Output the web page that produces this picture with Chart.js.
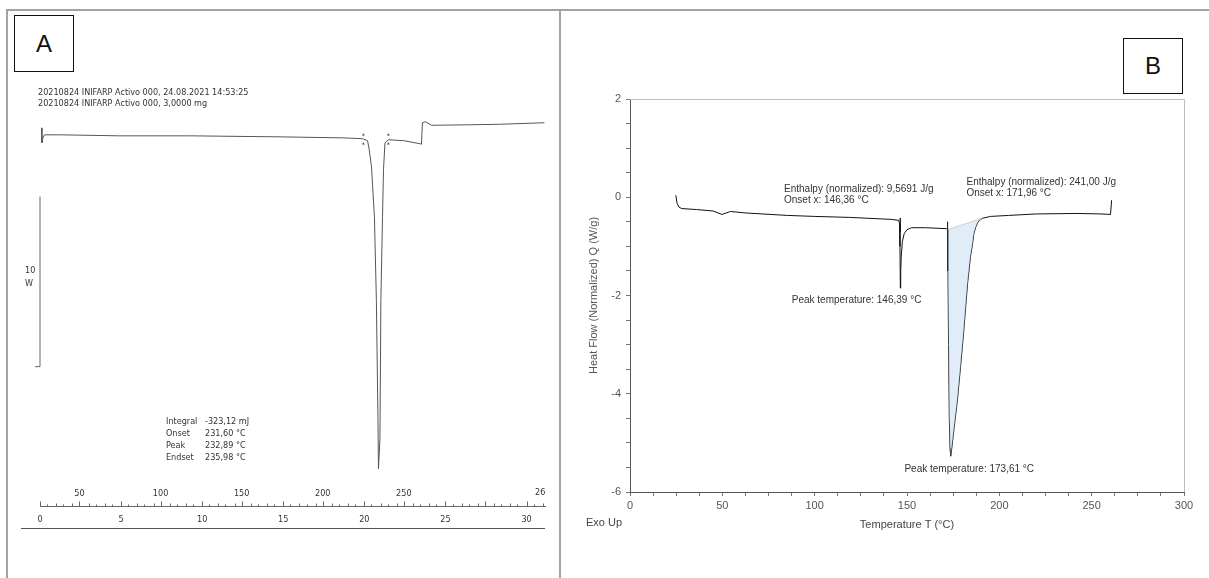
<!DOCTYPE html>
<html>
<head>
<meta charset="utf-8">
<script src="https://cdn.jsdelivr.net/npm/chart.js@4.4.0/dist/chart.umd.min.js"></script>
<style>
body{margin:0;background:#fff;width:1209px;height:578px;overflow:hidden;position:relative;font-family:"Liberation Sans",Arial,sans-serif}
.ln{position:absolute;background:#a3a3a3}
.box{position:absolute;border:1.5px solid #111;box-sizing:border-box;font-size:24px;color:#111;display:flex;align-items:center;justify-content:center}
.ta{position:absolute;font-family:"DejaVu Sans Condensed","DejaVu Sans";font-size:9px;color:#333;white-space:pre;line-height:11px}
.tb{position:absolute;font-family:"Liberation Sans Narrow","Liberation Sans";font-size:11px;color:#444;white-space:pre}
canvas{position:absolute}
</style>
</head>
<body>
<div class="ln" style="left:6px;top:9px;width:1203px;height:2px"></div>
<div class="ln" style="left:6px;top:9px;width:2px;height:569px"></div>
<div class="ln" style="left:559px;top:9px;width:2px;height:569px"></div>

<div class="box" style="left:14px;top:15px;width:60px;height:57px">A</div>
<div class="box" style="left:1123px;top:38px;width:60px;height:56px">B</div>

<canvas id="chartA" width="552" height="567" style="left:8px;top:11px"></canvas>
<canvas id="chartB" width="647" height="567" style="left:562px;top:11px"></canvas>

<div class="ta" style="left:38px;top:87px">20210824 INIFARP Activo 000, 24.08.2021 14:53:25
20210824 INIFARP Activo 000, 3,0000 mg</div>
<div class="ta" style="left:25px;top:264px;line-height:13px">10
W</div>
<div class="ta" style="left:166px;top:415px;line-height:12px">Integral
Onset
Peak
Endset</div>
<div class="ta" style="left:205px;top:415px;line-height:12px">-323,12 mJ
231,60 °C
232,89 °C
235,98 °C</div>
<div class="ta" style="left:535px;top:487px">26</div>
<div class="ln" style="left:21px;top:528px;width:524px;height:1px;background:#555"></div>
<div class="tb" style="left:586px;top:516px">Exo Up</div>

<script>
// ---- Panel A : DSC, heat flow vs time (min) ----
const tA = [0.09, 0.12, 0.18, 0.28, 1.2, 4.9, 9.28, 14.8, 18.7, 19.9, 20.2, 20.3, 20.44, 20.62, 20.74, 20.84, 20.87,
  20.96, 21.02, 21.12, 21.18, 21.27, 21.48, 22.47, 23.46, 23.52, 23.58, 23.77, 24.14, 26.48, 28.33, 31.1];
const qA = [0.35, -0.53, -0.24, -0.06, -0.06, -0.12, -0.12, -0.18, -0.24, -0.29, -0.41, -0.94, -1.94, -4.88, -9.76, -16.8, -19.7,
  -18.0, -9.76, -4.88, -2.12, -0.53, -0.35, -0.41, -0.59, -0.62, 0.65, 0.71, 0.5, 0.53, 0.56, 0.65];
const timeTicksA = [0, 5, 10, 15, 20, 25, 30];
const tempTicksA = [50, 100, 150, 200, 250];
const scaleBarA = [-3.7, -13.7]; // 10 mW
const markersA = [19.94, 21.48];

// ---- Panel B : heat flow (W/g) vs temperature ----
const tB = [24.8, 25.5, 26.5, 28, 36, 45, 49.8, 54.4, 62.8, 85.3, 100, 118.9, 130, 141.3, 145.5, 146.0, 146.2, 146.39,
  146.6, 146.9, 147.5, 148.5, 150, 152.4, 160, 171.5, 171.96, 172.2, 172.5, 172.9, 173.3, 173.61, 173.9, 175.5, 177.3,
  179, 180.6, 182.8, 184.4, 185.5, 186.2, 187.3, 188.5, 190.7, 195.2, 205, 220, 242, 255, 260.2, 260.8];
const qB = [0.04, -0.12, -0.2, -0.23, -0.25, -0.28, -0.35, -0.29, -0.32, -0.37, -0.39, -0.41, -0.43, -0.45, -0.47, -0.55, -1.0, -1.85,
  -1.5, -1.2, -0.9, -0.74, -0.66, -0.62, -0.62, -0.64, -0.66, -1.5, -3.0, -4.5, -5.1, -5.27, -5.22, -4.7, -4.13,
  -3.45, -2.78, -1.76, -1.2, -0.95, -0.74, -0.6, -0.5, -0.43, -0.39, -0.37, -0.34, -0.33, -0.34, -0.35, -0.06];
const peakRangeB = [171.96, 190.7];
const onsetsB = [146.36, 171.96];
const xTickLabelsB = [0, 50, 100, 150, 200, 250, 300];
const yTickLabelsB = [2, 0, -2, -4, -6];
const annB = [
  {x: 83.4, y: 0.16, text: "Enthalpy (normalized): 9,5691 J/g"},
  {x: 83.4, y: -0.06, text: "Onset x: 146,36 °C"},
  {x: 182.2, y: 0.31, text: "Enthalpy (normalized): 241,00 J/g"},
  {x: 182.2, y: 0.08, text: "Onset x: 171,96 °C"},
  {x: 87.6, y: -2.1, text: "Peak temperature: 146,39 °C"},
  {x: 148.6, y: -5.54, text: "Peak temperature: 173,61 °C"}
];

const pts = (xs, ys) => xs.map((x, i) => ({x: x, y: ys[i]}));
const fontB = '"Liberation Sans Narrow", "Liberation Sans", Arial';

// axes of panel A drawn from its two x scales (time + temperature)
const axisA = {
  id: "axisA",
  afterDraw(chart) {
    const ctx = chart.ctx, x = chart.scales.x, xT = chart.scales.xT;
    const yl = chart.chartArea.bottom + 0.5;
    ctx.save();
    ctx.strokeStyle = "#666";
    ctx.lineWidth = 1;
    ctx.beginPath();
    ctx.moveTo(x.getPixelForValue(0), yl);
    ctx.lineTo(chart.chartArea.right, yl);
    for (let t = 0; t <= x.max; t++) {
      const px = Math.round(x.getPixelForValue(t)) + 0.5;
      ctx.moveTo(px, yl);
      ctx.lineTo(px, yl - (t % 5 === 0 ? 5 : 3));
    }
    for (let T = 30; T <= 330; T += 10) {
      const px = Math.round(xT.getPixelForValue(T)) + 0.5;
      if (px < x.getPixelForValue(0) || px > chart.chartArea.right) continue;
      ctx.moveTo(px, yl);
      ctx.lineTo(px, yl - (T % 50 === 0 ? 5 : 2));
    }
    ctx.stroke();
    ctx.fillStyle = "#333";
    ctx.font = '9px "DejaVu Sans Condensed", "DejaVu Sans"';
    ctx.textAlign = "center";
    ctx.textBaseline = "middle";
    timeTicksA.forEach(t => ctx.fillText(String(t), x.getPixelForValue(t), yl + 13));
    tempTicksA.forEach(T => ctx.fillText(String(T), xT.getPixelForValue(T), yl - 13));
    ctx.restore();
  }
};

new Chart(document.getElementById("chartA"), {
  type: "line",
  data: {
    datasets: [
      {data: pts(tA, qA), borderColor: "#555", borderWidth: 1, pointRadius: 0, tension: 0, clip: false},
      {data: [{x: -0.3, y: scaleBarA[1]}, {x: 0, y: scaleBarA[1]}, {x: 0, y: scaleBarA[0]}],
        borderColor: "#666", borderWidth: 1, pointRadius: 0, clip: false},
      {data: markersA.flatMap(t => [{x: t, y: -0.06}, {x: t, y: -0.59}]), showLine: false,
        pointStyle: "triangle", pointRadius: 1.6, pointBackgroundColor: "#444", pointBorderWidth: 0}
    ]
  },
  options: {
    responsive: false,
    animation: false,
    events: [],
    layout: {padding: {left: 32, right: 14, top: 99, bottom: 72}},
    plugins: {legend: {display: false}, tooltip: {enabled: false}},
    scales: {
      x: {type: "linear", min: 0, max: 31.2, display: false},
      xT: {type: "linear", min: 25.65, max: 337.65, display: false},
      y: {type: "linear", min: -21.9, max: 1.4, display: false}
    }
  },
  plugins: [axisA]
});

// light frame (top/right) and text labels for panel B
const frameB = {
  id: "frameB",
  beforeDatasetsDraw(chart) {
    const {ctx, chartArea: a} = chart;
    ctx.save();
    ctx.strokeStyle = "#bdbdbd";
    ctx.lineWidth = 1;
    ctx.beginPath();
    ctx.moveTo(a.left, a.top + 0.5);
    ctx.lineTo(a.right + 0.5, a.top + 0.5);
    ctx.lineTo(a.right + 0.5, a.bottom);
    ctx.stroke();
    ctx.restore();
  },
  afterDatasetsDraw(chart) {
    const ctx = chart.ctx, x = chart.scales.x, y = chart.scales.y;
    ctx.save();
    ctx.fillStyle = "#333";
    ctx.font = "10px " + fontB;
    ctx.textBaseline = "middle";
    annB.forEach(a => ctx.fillText(a.text, x.getPixelForValue(a.x), y.getPixelForValue(a.y)));
    ctx.restore();
  }
};

const peakPts = pts(tB, qB).filter(p => p.x >= peakRangeB[0] && p.x <= peakRangeB[1]);
const baseB = [{x: peakRangeB[0], y: -0.66}, {x: peakRangeB[1], y: -0.43}];

new Chart(document.getElementById("chartB"), {
  type: "line",
  data: {
    datasets: [
      {data: peakPts, borderWidth: 0, pointRadius: 0, fill: "+1", backgroundColor: "rgba(198,220,242,0.55)"},
      {data: baseB, borderColor: "#aaa", borderWidth: 0.6, pointRadius: 0},
      {data: pts(tB, qB), borderColor: "#111", borderWidth: 1, pointRadius: 0, tension: 0},
      {data: [{x: onsetsB[0], y: -0.42}, {x: onsetsB[0], y: -0.7}], borderColor: "#222", borderWidth: 0.8, pointRadius: 0},
      {data: [{x: onsetsB[1], y: -0.5}, {x: onsetsB[1], y: -0.75}], borderColor: "#222", borderWidth: 0.8, pointRadius: 0}
    ]
  },
  options: {
    responsive: false,
    animation: false,
    events: [],
    layout: {padding: {left: 0, right: 25, top: 88, bottom: 46}},
    plugins: {legend: {display: false}, tooltip: {enabled: false}},
    scales: {
      x: {
        type: "linear", min: 0, max: 300,
        afterFit: s => { s.height = 40; },
        border: {color: "#555"},
        grid: {drawOnChartArea: false, tickLength: 4, color: "#777"},
        ticks: {stepSize: 12.5, autoSkip: false, maxRotation: 0, minRotation: 0, padding: 3, color: "#555",
          font: {size: 11, family: fontB},
          callback: v => xTickLabelsB.includes(v) ? String(v) : ""},
        title: {display: true, text: "Temperature T (°C)", color: "#444", padding: {top: 0, bottom: 0},
          font: {size: 11, family: fontB}}
      },
      y: {
        type: "linear", min: -6, max: 2,
        afterFit: s => { s.width = 68; },
        border: {color: "#555"},
        grid: {drawOnChartArea: false, tickLength: 4, color: "#777"},
        ticks: {stepSize: 0.5, autoSkip: false, padding: 5, color: "#555",
          font: {size: 11, family: fontB},
          callback: v => yTickLabelsB.includes(v) ? String(v) : ""},
        title: {display: true, text: "Heat Flow (Normalized) Q (W/g)", color: "#555", padding: {top: 25, bottom: 0},
          font: {size: 11, family: fontB}}
      }
    }
  },
  plugins: [frameB]
});
</script>
</body>
</html>
